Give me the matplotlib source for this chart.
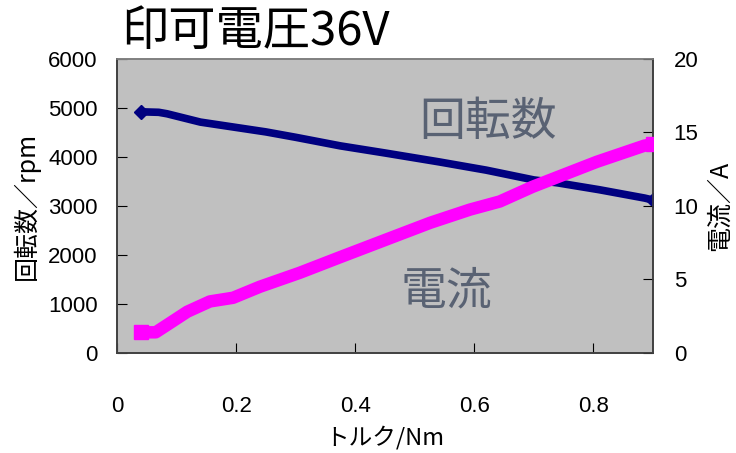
import matplotlib
matplotlib.use("Agg")
import matplotlib.pyplot as plt

# トルク (Nm) と回転数 (rpm)
torque_rpm = [0.04, 0.07, 0.084, 0.14, 0.195, 0.25, 0.30, 0.375, 0.45, 0.54, 0.62, 0.70, 0.74, 0.81, 0.886, 0.90]
rpm = [4920, 4910, 4880, 4710, 4610, 4510, 4400, 4225, 4080, 3900, 3730, 3530, 3470, 3330, 3160, 3120]

# トルク (Nm) と電流 (A)
torque_cur = [0.04, 0.065, 0.084, 0.118, 0.156, 0.195, 0.24, 0.307, 0.374, 0.458, 0.526, 0.593, 0.643, 0.698, 0.806, 0.886, 0.90]
current = [1.4, 1.4, 1.9, 2.8, 3.5, 3.75, 4.5, 5.45, 6.5, 7.8, 8.85, 9.75, 10.3, 11.3, 13.0, 14.1, 14.2]

x_ticks = [0, 0.2, 0.4, 0.6, 0.8]
x_ticklabels = ["0", "0.2", "0.4", "0.6", "0.8"]
rpm_ticks = [0, 1000, 2000, 3000, 4000, 5000, 6000]
cur_ticks = [0, 5, 10, 15, 20]

num_font = ["Liberation Sans", "Noto Sans CJK JP"]
jp_font = ["Noto Sans CJK JP", "DejaVu Sans"]
plt.rcParams["font.family"] = jp_font

fig = plt.figure(figsize=(7.36, 4.53), dpi=100)
ax = fig.add_axes([0.159, 0.221, 0.728, 0.649])
ax.set_facecolor("#c0c0c0")
ax2 = ax.twinx()

ax.plot(torque_rpm, rpm, color="#000080", lw=5.5, solid_capstyle="butt",
        marker="D", markersize=7, markevery=[0, len(rpm) - 1], zorder=3)
ax2.plot(torque_cur, current, color="#ff00ff", lw=9, solid_capstyle="butt",
         marker="s", markersize=10, markevery=[0, len(current) - 1], zorder=3)

ax.set_xlim(0, 0.9)
ax.set_ylim(0, 6000)
ax2.set_ylim(0, 20)

ax.set_xticks(x_ticks)
ax.set_xticklabels(x_ticklabels, family=num_font, fontsize=16)
ax.set_yticks(rpm_ticks)
ax.set_yticklabels([str(v) for v in rpm_ticks], family=num_font, fontsize=16)
ax2.set_yticks(cur_ticks)
ax2.set_yticklabels([str(v) for v in cur_ticks], family=num_font, fontsize=16)

ax.tick_params(axis="x", direction="in", length=7, pad=31)
ax.tick_params(axis="y", direction="in", length=7, pad=14)
ax2.tick_params(axis="y", direction="in", length=7, pad=15)

for a in (ax, ax2):
    for s in a.spines.values():
        s.set_color("#404040")
        s.set_linewidth(1.2)
ax.spines["top"].set_color("#808080")
ax2.spines["top"].set_color("#808080")

ax.set_xlabel("トルク/Nm", fontsize=17, family=jp_font, labelpad=6)
ax.set_ylabel("回転数／rpm", fontsize=18, family=jp_font, labelpad=6)
ax2.set_ylabel("電流／A", fontsize=18, family=jp_font, labelpad=6)

ax.text(0.623, 4720, "回転数", fontsize=33, color="#596273", ha="center", va="center")
ax.text(0.554, 1250, "電流", fontsize=33, color="#596273", ha="center", va="center")

fig.text(0.164, 0.93, "印可電圧36V", fontsize=34, ha="left", va="center")

fig.savefig("out.png", dpi=100)
